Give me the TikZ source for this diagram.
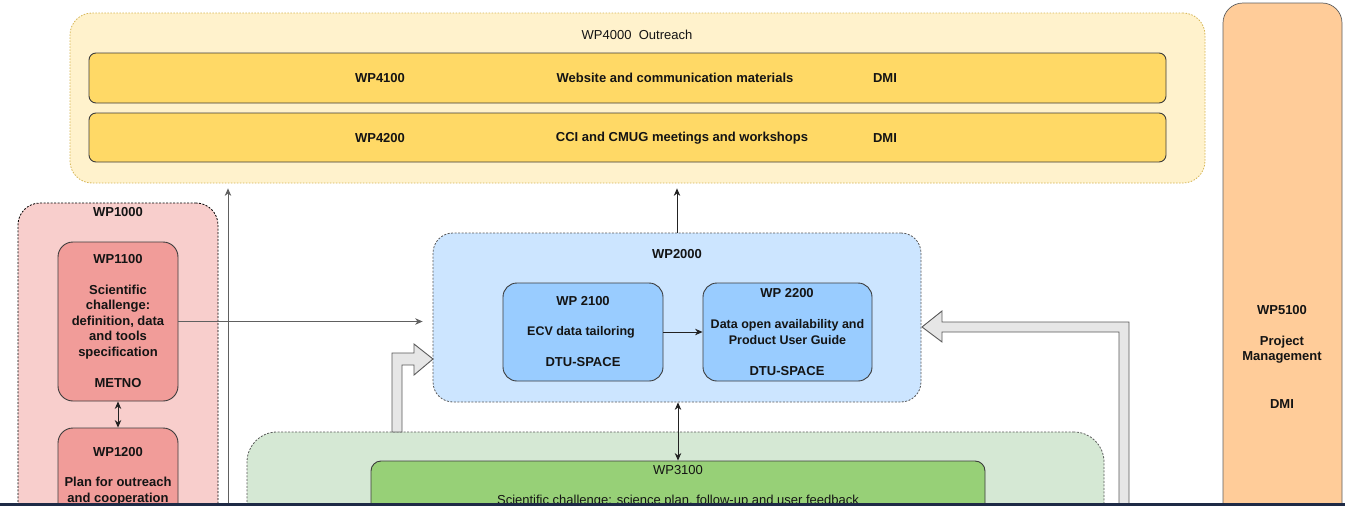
\documentclass[tikz,border=0pt]{standalone}
\usepackage{fontspec}
\setmainfont{Liberation Sans}
\usetikzlibrary{arrows.meta}
\definecolor{yelout}{HTML}{FFF2CC}
\definecolor{yeloutline}{HTML}{D6B656}
\definecolor{yelbox}{HTML}{FFD966}
\definecolor{orangebox}{HTML}{FFCC99}
\definecolor{pinkout}{HTML}{F8CECC}
\definecolor{redbox}{HTML}{F19C99}
\definecolor{blueout}{HTML}{CCE5FF}
\definecolor{bluebox}{HTML}{99CCFF}
\definecolor{greenout}{HTML}{D5E8D4}
\definecolor{greenbox}{HTML}{97D077}
\definecolor{flexfill}{HTML}{E6E6E6}
\definecolor{boxline}{HTML}{3C3C3C}
\definecolor{dashline}{HTML}{5A5A5A}
\definecolor{connc}{HTML}{222222}
\definecolor{grayconn}{HTML}{606060}
\definecolor{navybar}{HTML}{1E2A46}
\definecolor{textcol}{HTML}{141414}
\begin{document}
\begin{tikzpicture}[x=1pt,y=-1pt,
  font=\fontsize{13}{15.5}\selectfont\bfseries,
  outer/.style={draw=dashline, line width=0.8pt, dash pattern=on 2pt off 1.5pt, inner sep=0pt},
  solidbox/.style={draw=boxline, line width=0.9pt, inner sep=0pt},
  txt/.style={inner sep=0pt, align=center, text=textcol},
  rtxt/.style={txt, font=\fontsize{13}{15.5}\selectfont},
  stxt/.style={txt, font=\fontsize{12.5}{15.5}\selectfont\bfseries},
  conn/.style={draw=connc, line width=0.8pt, -{Stealth[length=7.5pt,width=6.5pt]}},
  dconn/.style={draw=connc, line width=0.8pt, {Stealth[length=7.5pt,width=6.5pt]}-{Stealth[length=7.5pt,width=6.5pt]}},
  flex/.style={draw=dashline, fill=flexfill, line width=0.9pt, line join=miter}
]
\useasboundingbox (0,0) rectangle (1345,506);
\clip (0,0) rectangle (1345,506);
\fill[white] (0,0) rectangle (1345,506);

% WP4000 outreach
\node[outer, draw=yeloutline, dash pattern=on 1.5pt off 1.5pt, fill=yelout, rounded corners=22pt,
      minimum width=1135pt, minimum height=170pt] (wp4000) at (637.5,98) {};
\node[rtxt] (t4000) at (637,35) {WP4000\ \ Outreach};
\node[solidbox, fill=yelbox, rounded corners=7pt, minimum width=1077pt, minimum height=50pt] (wp4100) at (627.5,78) {};
\node[solidbox, fill=yelbox, rounded corners=7pt, minimum width=1077pt, minimum height=49pt] (wp4200) at (627.5,137.5) {};
\node[txt] (t4100a) at (380,78) {WP4100};
\node[txt] (t4100b) at (675,78) {Website and communication materials};
\node[txt] (t4100c) at (885,78) {DMI};
\node[txt] (t4200a) at (380,138) {WP4200};
\node[txt] (t4200b) at (682,138) {CCI and CMUG meetings and workshops};
\node[txt] (t4200c) at (885,138) {DMI};

% WP5100
\node[solidbox, draw=grayconn, line width=0.7pt, fill=orangebox, rounded corners=20pt,
      minimum width=119pt, minimum height=557pt] (wp5100) at (1282.5,281.5) {};
\node[txt] (t5100a) at (1282,310) {WP5100};
\node[txt] (t5100b) at (1282,349.5) {Project\\Management};
\node[txt] (t5100c) at (1282,404) {DMI};

% WP1000
\node[outer, draw=black, fill=pinkout, rounded corners=22pt, minimum width=200pt, minimum height=357pt] (wp1000) at (118,381.5) {};
\node[txt] (t1000) at (118,212) {WP1000};
\node[solidbox, fill=redbox, rounded corners=15pt, minimum width=120pt, minimum height=159pt] (wp1100) at (118,321.5) {};
\node[txt] (t1100a) at (118,259) {WP1100};
\node[txt] (t1100b) at (118,322) {Scientific\\challenge:\\definition, data\\and tools\\specification};
\node[txt] (t1100c) at (118,383) {METNO};
\node[solidbox, fill=redbox, rounded corners=15pt, minimum width=120pt, minimum height=132pt] (wp1200) at (118,494) {};
\node[txt] (t1200a) at (118,452) {WP1200};
\node[txt] (t1200b) at (118,491) {Plan for outreach\\and cooperation};

% WP3000 (green)
\node[outer, fill=greenout, rounded corners=30pt, minimum width=857pt, minimum height=188pt] (wp3000) at (675.5,526) {};
\node[solidbox, fill=greenbox, rounded corners=10pt, minimum width=614pt, minimum height=139pt] (wp3100) at (678,530.5) {};
\node[rtxt] (t3100a) at (678,470) {WP3100};
\node[rtxt] (t3100b) at (678,501) {Scientific challenge: science plan, follow-up and user feedback};

% WP2000 (blue)
\node[outer, fill=blueout, rounded corners=20pt, minimum width=488pt, minimum height=169pt] (wp2000) at (677,317.5) {};
\node[txt] (t2000) at (677,254) {WP2000};
\node[solidbox, fill=bluebox, rounded corners=14pt, minimum width=160pt, minimum height=98pt] (wp2100) at (583,332) {};
\node[txt] (t2100a) at (583,301) {WP 2100};
\node[stxt] (t2100b) at (581,332) {ECV data tailoring};
\node[txt] (t2100c) at (583,362) {DTU-SPACE};
\node[solidbox, fill=bluebox, rounded corners=14pt, minimum width=169pt, minimum height=98pt] (wp2200) at (787.5,332) {};
\node[txt] (t2200a) at (787,293) {WP 2200};
\node[stxt] (t2200b) at (787.5,332) {Data open availability and\\Product User Guide};
\node[txt] (t2200c) at (787,371) {DTU-SPACE};

% flex arrows
\draw[flex] (392,432) -- (392,353) -- (414,353) -- (414,344) -- (433,359) -- (414,375) -- (414,365) -- (402,365) -- (402,432) -- cycle;
\draw[flex] (1119,520) -- (1119,332) -- (942,332) -- (942,342) -- (922,327) -- (942,311) -- (942,322) -- (1129,322) -- (1129,520) -- cycle;

% connectors
\coordinate (a1) at ([xshift=-10pt]wp2000.west);
\draw[conn, draw=grayconn] (wp1100.east) -- (a1 |- wp1100.east);
\draw[dconn] (wp1100.south) -- (wp1200.north);
\coordinate (v1s) at (228,512);
\coordinate (ybot) at ([yshift=-5pt]wp4000.south);
\draw[conn, draw=grayconn] (v1s) -- (ybot -| v1s);
\draw[conn] (wp2000.north) -- (ybot -| wp2000.north);
\draw[conn] (wp2100.east) -- (wp2200.west);
\draw[dconn] (wp2000.south -| wp3100.north) -- (wp3100.north);

% bottom bar
\fill[navybar] (0,503) rectangle (1345,506);
\end{tikzpicture}
\end{document}
